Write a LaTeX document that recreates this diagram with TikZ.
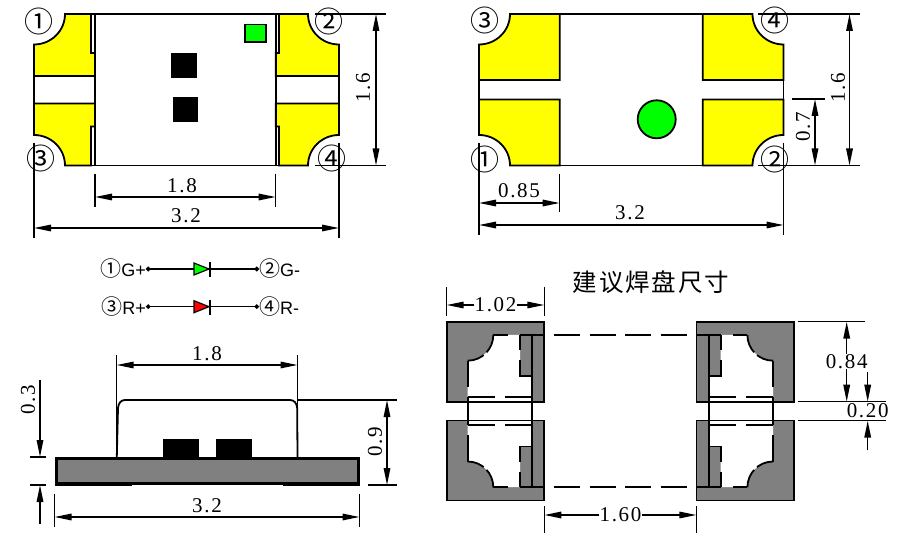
\documentclass[tikz,border=0pt]{standalone}
\usepackage{fontspec}
\usetikzlibrary{arrows.meta}
\setmainfont{Liberation Serif}
\newfontfamily\dimfont[LetterSpace=8]{Liberation Serif}
\newfontfamily\titlefont[LetterSpace=8]{Noto Sans CJK SC}
\newfontfamily\circfont{Noto Sans CJK SC}
\newfontfamily\pinfont{Liberation Sans}
\definecolor{padyellow}{RGB}{255,255,0}
\definecolor{ledgreen}{RGB}{0,255,0}
\definecolor{ledred}{RGB}{255,0,0}
\definecolor{padgray}{RGB}{128,128,128}
\tikzset{
  outline/.style={line width=1.8pt,line join=miter},
  thin dim/.style={line width=1.5pt},
  dimarrow/.style={line width=1.5pt,{Triangle[length=17pt,width=6.5pt]}-{Triangle[length=17pt,width=6.5pt]}},
  onearrow/.style={line width=1.5pt,-{Triangle[length=17pt,width=6.5pt]}},
  dimtext/.style={inner sep=0pt,font=\fontsize{21}{21}\dimfont},
  circnum/.style={inner sep=0pt,font=\fontsize{29}{29}\circfont},
  pinlabel/.style={inner sep=0pt,font=\fontsize{18}{18}\pinfont},
}
\begin{document}
\begin{tikzpicture}[x=1pt,y=-1pt]
\useasboundingbox (0,0) rectangle (900,553);
\fill [white] (0,0) rectangle (900,553);
\foreach \ox/\sx/\oy/\sy/\ia/\ib in {0/1/0/1/91/95,373/-1/0/1/94/97.3,0/1/179.5/-1/91/95,373/-1/179.5/-1/94/97.3}
{
\begin{scope}[shift={(\ox,\oy)},xscale=\sx,yscale=\sy]
\filldraw [outline,fill=padyellow] (65,14) .. controls (65,31) and (51,44.5) .. (34,44.5)
  -- (34,76) -- (\ib,76) -- (\ib,53) -- (\ia,53) -- (\ia,14) -- cycle;
\end{scope}
}
\draw [outline] (34,76) -- (34,104);
\draw [outline] (339,76) -- (339,104);
\draw [outline] (65,14) -- (308,14);
\draw [outline] (65,165.5) -- (308,165.5);
\draw [outline] (95,14) -- (95,165.5);
\draw [outline] (275.7,14) -- (275.7,165.5);
\filldraw [outline,fill=ledgreen] (245,24.5) rectangle (266,42);
\fill (171,52.6) rectangle (197,78);
\fill (172.7,96.7) rectangle (198,122);
\node (onea) [circnum] at (39,21) {①};
\node (twoa) [circnum] at (329,21) {②};
\node (threea) [circnum] at (41,158) {③};
\node (foura) [circnum] at (332,158) {④};
\draw [thin dim] (315,14) -- (386,14);
\draw [thin dim] (315,165.5) -- (386,165.5);
\draw [dimarrow] (376,14) -- (376,165.5);
\node (sizea) [dimtext,rotate=90] at (363,88) {1.6};
\draw [thin dim] (95,174) -- (95,207);
\draw [thin dim] (275.7,174) -- (275.7,207);
\draw [dimarrow] (95,197) -- (275.7,197);
\node (sizeb) [dimtext] at (182,186) {1.8};
\draw [thin dim] (34,143) -- (34,238);
\draw [thin dim] (339,143) -- (339,238);
\draw [dimarrow] (34,228) -- (339,228);
\node (sizec) [dimtext] at (186,216) {3.2};

\foreach \ox/\sx/\oy/\sy in {0/1/0/1,1262.5/-1/0/1,0/1/179.5/-1,1262.5/-1/179.5/-1}
{
\begin{scope}[shift={(\ox,\oy)},xscale=\sx,yscale=\sy]
\filldraw [outline,fill=padyellow] (510,14) .. controls (510,31) and (496,44.5) .. (479,44.5)
  -- (479,80) -- (559.7,80) -- (559.7,14) -- cycle;
\end{scope}
}
\draw [outline] (479,80) -- (479,99);
\draw [outline] (783.5,80) -- (783.5,99);
\draw [outline] (510,14) -- (752,14);
\draw [outline] (510,165.5) -- (752,165.5);
\filldraw [outline,fill=ledgreen] (656.7,119.3) circle (19);
\node (oneb) [circnum] at (485,159) {①};
\node (twob) [circnum] at (775,159) {②};
\node (threeb) [circnum] at (485,20) {③};
\node (fourb) [circnum] at (775,20) {④};
\draw [thin dim] (758,14) -- (860,14);
\draw [thin dim] (758,165.5) -- (860,165.5);
\draw [dimarrow] (849.5,14) -- (849.5,165.5);
\node (sized) [dimtext,rotate=90] at (838,88) {1.6};
\draw [thin dim] (792,99) -- (825,99);
\draw [dimarrow] (815,99) -- (815,165.5);
\node (sizee) [dimtext,rotate=90] at (803,127) {0.7};
\draw [thin dim] (479,143) -- (479,235);
\draw [thin dim] (559.7,174) -- (559.7,212);
\draw [thin dim] (783.5,143) -- (783.5,235);
\draw [dimarrow] (479,203) -- (559.7,203);
\node (sizef) [dimtext] at (519,191) {0.85};
\draw [dimarrow] (479,225) -- (783.5,225);
\node (sizeg) [dimtext] at (630,213) {3.2};

\node (gplus) [pinlabel,anchor=east] at (146,269) {{\fontsize{21}{21}\circfont ①}G+};
\node (gminus) [pinlabel,anchor=west] at (259,269) {{\fontsize{21}{21}\circfont ②}G-};
\node (rplus) [pinlabel,anchor=east] at (146,306.7) {{\fontsize{21}{21}\circfont ③}R+};
\node (rminus) [pinlabel,anchor=west] at (259,306.7) {{\fontsize{21}{21}\circfont ④}R-};
\draw [line width=1.4pt,{Circle[length=4.5pt]}-{Circle[length=4.5pt]}] (gplus) -- (gminus);
\draw [line width=1.4pt,{Circle[length=4.5pt]}-{Circle[length=4.5pt]}] (rplus) -- (rminus);
\filldraw [line width=1.2pt,fill=ledgreen] (194,263) -- (209,269) -- (194,275) -- cycle;
\draw [line width=1.6pt] (209.7,262) -- (209.7,277);
\filldraw [line width=1.2pt,fill=ledred] (194,300.7) -- (209,306.7) -- (194,312.7) -- cycle;
\draw [line width=1.6pt] (209.7,299.7) -- (209.7,314.7);

\filldraw [line width=3pt,fill=padgray] (56,458.2) rectangle (358.5,483.5);
\draw [line width=2.5pt] (54.5,485) -- (132,485);
\draw [line width=2.5pt] (283,485) -- (360,485);
\draw [outline] (116.8,457) -- (118,408) .. controls (118.5,403) and (121,400) .. (125,400)
  -- (290,400) .. controls (294,400) and (296.8,403) .. (297.2,408) -- (297.5,457);
\fill (162.5,438.7) rectangle (199,457);
\fill (216,438.7) rectangle (252,457);
\draw [thin dim] (116.7,355) -- (116.7,457);
\draw [thin dim] (297.5,355) -- (297.5,457);
\draw [dimarrow] (116.7,365) -- (297.5,365);
\node (sizeh) [dimtext] at (207,354) {1.8};
\draw [thin dim] (297,400) -- (397,400);
\draw [thin dim] (368,485) -- (397,485);
\draw [dimarrow] (387,400) -- (387,485);
\node (sizei) [dimtext,rotate=90] at (375,442) {0.9};
\draw [thin dim] (54.5,494) -- (54.5,527);
\draw [thin dim] (359.5,494) -- (359.5,527);
\draw [dimarrow] (54.5,517) -- (359.5,517);
\node (sizej) [dimtext] at (207,506) {3.2};
\draw [thin dim] (30,457) -- (46,457);
\draw [thin dim] (30,485) -- (46,485);
\draw [onearrow] (40,380) -- (40,457);
\draw [onearrow] (40,524) -- (40,485);
\node (sizek) [dimtext,rotate=90] at (28,400) {0.3};

\node (title) [inner sep=0pt,font=\fontsize{24.5}{24.5}\titlefont] at (651,282) {建议焊盘尺寸};

\foreach \ox/\sx/\oy/\sy in {0/1/0/1,1240.7/-1/0/1,0/1/822.2/-1,1240.7/-1/822.2/-1}
{
\begin{scope}[shift={(\ox,\oy)},xscale=\sx,yscale=\sy]
\filldraw [outline,fill=padgray] (446.7,321.7) rectangle (544.3,401.7);
\fill [white] (493.3,335) .. controls (493.3,349) and (482,360.7) .. (467.7,360.7)
  -- (467.7,397.3) -- (531.7,397.3) -- (531.7,375.7) -- (520,375.7) -- (520,335) -- cycle;
\end{scope}
}
\fill [white] (467.7,397.3) rectangle (531.7,424.9);
\fill [white] (709,397.3) rectangle (773,424.9);
\foreach \ox/\sx/\oy/\sy in {0/1/0/1,1240.7/-1/0/1,0/1/822.2/-1,1240.7/-1/822.2/-1}
{
\begin{scope}[shift={(\ox,\oy)},xscale=\sx,yscale=\sy]
\draw [outline,dash pattern=on 19pt off 4pt] (493.3,335) .. controls (493.3,349) and (482,360.7) .. (467.7,360.7);
\draw [outline] (493.3,335) -- (508,335);
\draw [outline] (520,335) -- (544.3,335);
\draw [outline] (467.7,360.7) -- (467.7,387);
\draw [outline] (520,335) -- (520,350);
\draw [outline] (520,360) -- (520,375.7) -- (531.7,375.7);
\draw [outline] (531.7,335) -- (531.7,411.1);
\draw [outline] (467.7,397.3) -- (467.7,411.1);
\draw [outline] (467.7,397.3) -- (495,397.3);
\draw [outline] (505,397.3) -- (531.7,397.3);
\end{scope}
}
\draw [outline] (446.7,321.7) rectangle (544.3,401.7);
\draw [outline] (446.7,420.5) rectangle (544.3,500.5);
\draw [outline] (696.4,321.7) rectangle (794,401.7);
\draw [outline] (696.4,420.5) rectangle (794,500.5);
\draw [outline,dash pattern=on 26pt off 9.5pt] (554,335) -- (686.6,335);
\draw [outline,dash pattern=on 26pt off 9.5pt] (554,487.2) -- (686.6,487.2);

\draw [thin dim] (446.7,287) -- (446.7,316);
\draw [thin dim] (544.3,287) -- (544.3,316);
\node (sizel) [dimtext] at (495.5,305) {1.02};
\draw [onearrow] (sizel) -- (446.7,305);
\draw [onearrow] (sizel) -- (544.3,305);
\draw [thin dim] (544.3,506) -- (544.3,533);
\draw [thin dim] (696.4,506) -- (696.4,533);
\node (sizem) [dimtext] at (620.5,515) {1.60};
\draw [onearrow] (sizem) -- (544.3,515);
\draw [onearrow] (sizem) -- (696.4,515);
\draw [thin dim] (798,321.7) -- (865,321.7);
\draw [thin dim] (798,401.7) -- (886,401.7);
\draw [thin dim] (798,420.7) -- (886,420.7);
\node (sizen) [dimtext] at (846.7,361.7) {0.84};
\draw [onearrow] (sizen) -- (846.7,321.7);
\draw [onearrow] (sizen) -- (846.7,401.7);
\draw [onearrow] (867.7,372) -- (867.7,401.7);
\draw [onearrow] (867.7,450) -- (867.7,420.7);
\node (sizeo) [dimtext] at (867.7,411) {0.20};
\end{tikzpicture}
\end{document}
